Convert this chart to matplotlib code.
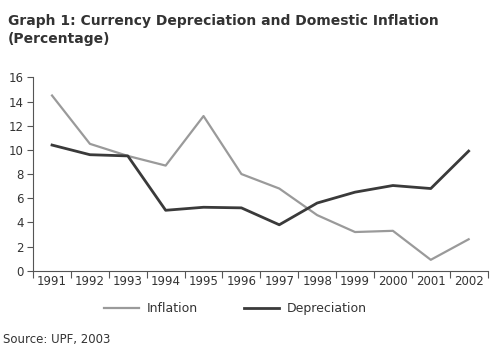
import matplotlib.pyplot as plt

years = ['1991', '1992', '1993', '1994', '1995', '1996',
         '1997', '1998', '1999', '2000', '2001', '2002']
inflation = [14.5, 10.5, 9.5, 8.7, 12.8, 8.0, 6.8, 4.6, 3.2, 3.3, 0.9, 2.6]
depreciation = [10.4, 9.6, 9.5, 5.0, 5.25, 5.2, 3.8, 5.6, 6.5, 7.05, 6.8, 9.9]

text_col = '#333333'

fig = plt.figure(figsize=(4.94, 3.55), dpi=100)
ax = fig.add_axes([0.067, 0.2375, 0.92, 0.5445])

x = range(len(years))
ax.plot(x, inflation, color='#9a9a9a', lw=1.6, label='Inflation')
ax.plot(x, depreciation, color='#3a3a3a', lw=2.0, label='Depreciation')

ax.set_xlim(-0.5, len(years) - 0.5)
ax.set_ylim(0, 16)
ax.set_yticks(range(0, 17, 2))
ax.set_xticks([i - 0.5 for i in range(len(years) + 1)], minor=False)
ax.set_xticklabels([])
ax.set_xticks(list(x), minor=True)
ax.set_xticklabels(years, minor=True)
ax.tick_params(axis='x', which='major', direction='out', length=5, width=0.8, color='#555555')
ax.tick_params(axis='x', which='minor', length=0, pad=3, labelsize=8.5, labelcolor=text_col)
ax.tick_params(axis='y', direction='out', length=4, width=0.8, color='#555555',
               labelsize=8.5, labelcolor=text_col, pad=3)

for s in ['top', 'right']:
    ax.spines[s].set_visible(False)
for s in ['left', 'bottom']:
    ax.spines[s].set_color('#555555')
    ax.spines[s].set_linewidth(0.8)

fig.text(0.016, 0.96, 'Graph 1: Currency Depreciation and Domestic Inflation\n(Percentage)',
         fontsize=10, fontweight='bold', color=text_col, va='top', ha='left',
         linespacing=1.3)

leg = fig.legend(loc='center', bbox_to_anchor=(0.476, 0.13), ncol=2, frameon=False,
                 fontsize=9, handlelength=2.8, columnspacing=3.7, handletextpad=0.6)
for t in leg.get_texts():
    t.set_color(text_col)

fig.text(0.006, 0.045, 'Source: UPF, 2003', fontsize=8.5, color=text_col, va='center')

fig.savefig('out.png', dpi=100)
